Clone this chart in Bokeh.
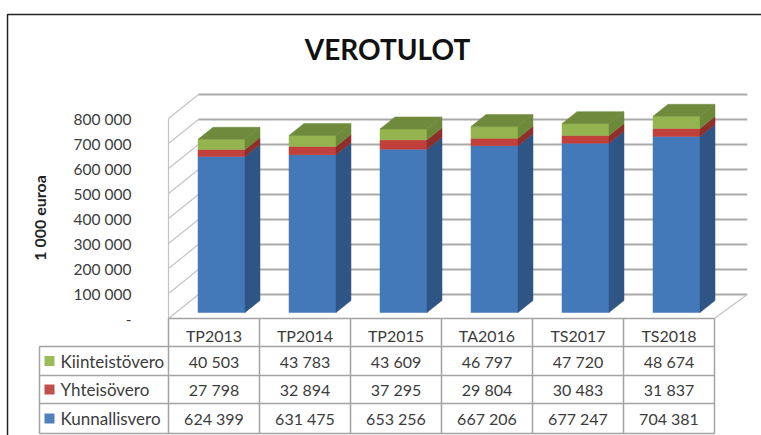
from bokeh.plotting import figure
from bokeh.models import LinearAxis, FixedTicker, Range1d
from bokeh.core.properties import value
from bokeh.embed import file_html
from bokeh.resources import INLINE

categories = ["TP2013", "TP2014", "TP2015", "TA2016", "TS2017", "TS2018"]
kunnallisvero = [624399, 631475, 653256, 667206, 677247, 704381]
yhteisovero = [27798, 32894, 37295, 29804, 30483, 31837]
kiinteistovero = [40503, 43783, 43609, 46797, 47720, 48674]
y_ticks = [0, 100000, 200000, 300000, 400000, 500000, 600000, 700000, 800000]

FONT = "Lato"
W, H = 761, 435
SLOT = 91.0            # pixels per category
UNIT = 4000.0          # euro-thousands per pixel
X0, Y0 = 168, 318      # canvas position of the front-left floor corner
DX, DY = 30 / SLOT, 24 * UNIT   # projection of full depth
BAR = 47 / SLOT
GRID = "#a9a9a9"
BORDER = "#a3a3a3"
TXT = "#3c3c3c"


def px(x):
    return (x - X0) / SLOT


def py(y):
    return (Y0 - y) * UNIT


p = figure(width=W, height=H, output_backend="svg", toolbar_location=None,
           x_range=Range1d(px(0), px(W)), y_range=Range1d(py(H), py(0)),
           x_axis_location=None, y_axis_location=None, min_border=0,
           background_fill_color="white", border_fill_color="white")
p.outline_line_color = None
p.grid.visible = False

# outer frame
p.line([px(7), px(7), px(W)], [py(H), py(14), py(14)], line_color="#222222", line_width=1.5)

# title
p.text([px(387)], [py(48)], text=["VEROTULOT"], text_font=value(FONT), text_font_style="bold",
       text_font_size="28px", text_color="#111111", text_align="center", text_baseline="middle")

# walls and gridlines
for t in y_ticks:
    p.line([0, DX], [t, t + DY], line_color="#c4c4c4", line_width=1.2)
    p.line([DX, 6 + DX + 0.03], [t + DY, t + DY], line_color=GRID, line_width=2)
p.line([0, 0], [0, y_ticks[-1]], line_color="#c4c4c4", line_width=1.2)
p.line([6, 6 + DX + 0.03], [0, DY], line_color="#c4c4c4", line_width=1.2)


def quad(x, y, c):
    p.patch(x, y, fill_color=c, line_color=c, line_width=0.5)


# bars
for i in range(len(categories)):
    l = i + 0.5 - BAR / 2 + 0.25 * DX
    r = l + BAR
    b = 0.25 * DY
    sx, sy = 0.5 * DX, 0.5 * DY
    base = b
    segments = [(kunnallisvero[i], "#4479b9", "#2f5585"),
                (yhteisovero[i], "#c2403b", "#8f2f2c"),
                (kiinteistovero[i], "#94b44f", "#6c8a3a")]
    for v, front, side in segments:
        top = base + v
        quad([l, r, r, l], [base, base, top, top], front)
        quad([r, r + sx, r + sx, r], [base, base + sy, top + sy, top], side)
        base = top
    quad([l, r, r + sx, l + sx], [base, base, base + sy, base + sy], "#6f8a3c")

# value axis with real tick labels
axis = LinearAxis(fixed_location=px(137), ticker=FixedTicker(ticks=y_ticks))
axis.major_label_overrides = {t: (f"{t:,}".replace(",", " ") if t else "-") for t in y_ticks}
axis.axis_line_color = None
axis.major_tick_line_color = None
axis.minor_tick_line_color = None
axis.major_label_standoff = 0
axis.major_label_text_font = FONT
axis.major_label_text_font_size = "15.5px"
axis.major_label_text_color = TXT
axis.axis_label = "1 000 euroa"
axis.axis_label_text_font = FONT
axis.axis_label_text_font_style = "bold"
axis.axis_label_text_font_size = "16px"
axis.axis_label_text_color = "#222222"
axis.axis_label_standoff = 22
p.add_layout(axis, "left")

# data table
rows_y = [py(318), py(346), py(375), py(403), py(433)]
legend_left = px(39)
for k, y in enumerate(rows_y):
    p.line([legend_left if k else 0, 6], [y, y], line_color=BORDER, line_width=1.5)
for c in range(7):
    p.line([c, c], [rows_y[0], rows_y[-1]], line_color=BORDER, line_width=1.5)
p.line([legend_left, legend_left], [rows_y[1], rows_y[-1]], line_color=BORDER, line_width=1.5)

rows = [("Kiinteistövero", kiinteistovero, "#9bbb59"),
        ("Yhteisövero", yhteisovero, "#c0504d"),
        ("Kunnallisvero", kunnallisvero, "#4f81bd")]
cx = [i + 0.5 for i in range(len(categories))]
p.text(cx, [py(335)] * 6, text=categories, text_font=value(FONT),
       text_font_size="16px", text_color=TXT, text_align="center", text_baseline="middle")
for r, (name, vals, col) in enumerate(rows):
    y = (rows_y[r + 1] + rows_y[r + 2]) / 2
    p.rect([px(49)], [y], width=10 / SLOT, height=10 * UNIT, fill_color=col, line_color=None)
    p.text([px(60)], [y], text=[name], text_font=value(FONT), text_font_size="17px",
           text_color=TXT, text_align="left", text_baseline="middle")
    p.text(cx, [y] * 6, text=[f"{v:,}".replace(",", " ") for v in vals], text_font=value(FONT),
           text_font_size="16px", text_color=TXT, text_align="center", text_baseline="middle")

open("out.html", "w").write(file_html(p, INLINE))
